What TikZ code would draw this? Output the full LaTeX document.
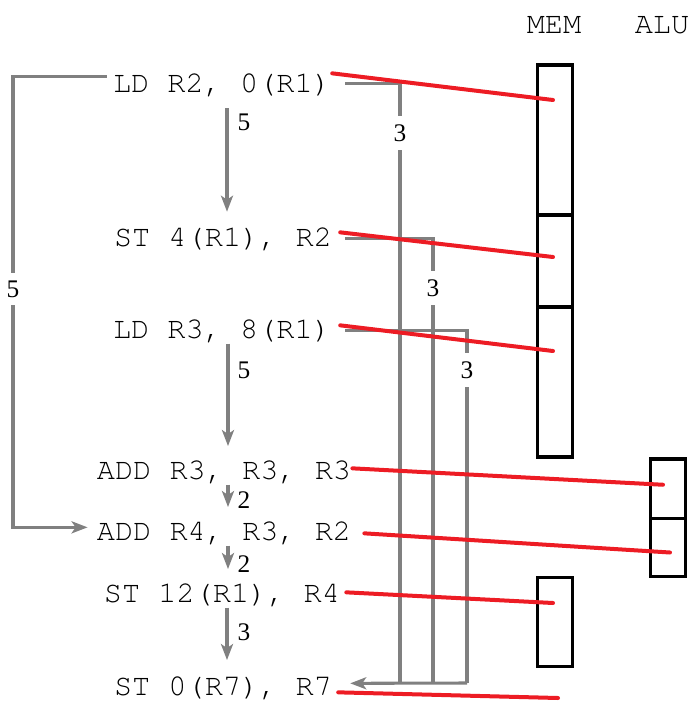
\documentclass[tikz,border=0pt]{standalone}
\usepackage{fontspec}
\newfontfamily\cour{TeX Gyre Cursor}
\newfontfamily\tms{Liberation Serif}
\usetikzlibrary{arrows.meta,calc}
\definecolor{ared}{HTML}{ED1C24}
\definecolor{agray}{HTML}{808080}
\begin{document}
\begin{tikzpicture}[x=0.75pt,y=-0.75pt,
  instr/.style={font=\cour\fontsize{22.7}{22.7}\selectfont, anchor=base, inner sep=0pt, text height=14pt, text depth=4pt},
  num/.style={font=\tms\fontsize{19}{19}\selectfont, inner sep=1pt},
  cut/.style={num, fill=white, inner xsep=1pt, inner ysep=6pt},
  gline/.style={draw=agray, line width=2.3pt},
  dep/.style={gline, -{Stealth[length=12pt,width=9pt,inset=3pt]}},
  dn/.style={dep, shorten >=10.5pt},
  redl/.style={draw=ared, line width=3pt, line cap=round},
  unit/.style={draw=black, line width=2.5pt, minimum width=34.5*0.75pt, inner sep=0pt},
]
\useasboundingbox (0,0) rectangle (696,708);

% headers
\node[instr] (mem) at (554,33) {MEM};
\node[instr] (alu) at (662,33) {ALU};

% instructions
\node[instr] (i1) at (222,92)  {LD R2, 0(R1)};
\node[instr] (i2) at (223,246) {ST 4(R1), R2};
\node[instr] (i3) at (222,338) {LD R3, 8(R1)};
\node[instr] (i4) at (224,479) {ADD R3, R3, R3};
\node[instr] (i5) at (224,540) {ADD R4, R3, R2};
\node[instr] (i6) at (222,602) {ST 12(R1), R4};
\node[instr] (i7) at (223,695) {ST 0(R7), R7};

% resource boxes
\node[unit, minimum height=150*0.75pt] (m1) at (555,140) {};
\node[unit, minimum height=92*0.75pt]  (m2) at (555,261) {};
\node[unit, minimum height=150*0.75pt] (m3) at (555,382) {};
\node[unit, minimum height=88.5*0.75pt] (m4) at (555,622) {};
\node[unit, minimum height=59.5*0.75pt] (a1) at (668,488.75) {};
\node[unit, minimum height=58*0.75pt]  (a2) at (668,547.5) {};

% sequential dependences
\coordinate (cA) at (227,0);
\coordinate (cB) at (228,0);
\draw[dn, shorten <=8pt, shorten >=11.5pt] (i1.south -| cA) -- (i2.north -| cA);
\draw[dn] (i3.south -| cB) -- (i4.north -| cB);
\draw[dn] (i4.south -| cB) -- (i5.north -| cB);
\draw[dn] (i5.south -| cB) -- (i6.north -| cB);
\draw[dn, shorten >=12pt] (i6.south -| cA) -- (i7.north -| cA);
\node[num] (n1) at (244,122.5) {5};
\node[num] (n2) at (244,370) {5};
\node[num] (n3) at (244,500) {2};
\node[num] (n4) at (244,564) {2};
\node[num] (n5) at (244,632.5) {3};

% long loop
\coordinate (lp) at (13,300);
\coordinate (ls) at ($(i1.west)+(-6,-9)$);
\coordinate (le) at ($(i5.west)+(-9,-6)$);
\draw[dep] (ls) -- (ls -| lp) -- (le -| lp) -- (le);
\node[cut] (n6) at (13,289) {5};

% memory-to-store paths
\coordinate (b1) at (400,683);
\coordinate (b2) at (433,683);
\coordinate (b3) at (467,683);
\draw[gline] ($(i1.east)+(14,-2)$) -| (b1);
\draw[gline] ($(i2.east)+(13,-1)$) -| (b2);
\draw[gline] ($(i3.east)+(14,-1)$) -| (b3);
\draw[dep] (b3) -- ($(i7.east)+(18,-5)$);
\node[cut] (n7) at (400,133) {3};
\node[cut] (n8) at (433,288) {3};
\node[cut] (n9) at (467,370) {3};

% resource usage (red)
\coordinate (rend) at (558,698);
\draw[redl] ($(i1.east)+(1,-12)$) -- ($(m1.center)+(-2,-40)$);
\draw[redl] ($(i2.east)+(8,-7)$) -- ($(m2.center)+(-2,-4)$);
\draw[redl] ($(i3.east)+(9,-6)$) -- ($(m3.center)+(-2,-31)$);
\draw[redl] ($(i4.east)+(1,-4)$) -- ($(a1.center)+(-5,-4)$);
\draw[redl] ($(i5.east)+(13,0)$) -- ($(a2.center)+(2,5)$);
\draw[redl] ($(i6.east)+(6,-3)$) -- ($(m4.center)+(-2,-19)$);
\draw[redl] ($(i7.east)+(6,4)$) -- (rend);
\end{tikzpicture}
\end{document}
